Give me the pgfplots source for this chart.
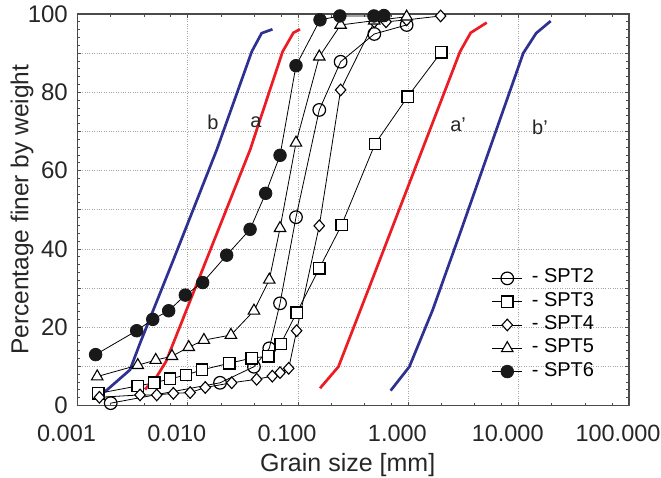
\documentclass[border=0pt]{standalone}
\usepackage{fontspec}
\setmainfont{Liberation Sans}
\usepackage{pgfplots}
\pgfplotsset{compat=1.18}
\definecolor{envred}{RGB}{237,28,36}
\definecolor{envblue}{RGB}{46,49,146}
\definecolor{axgray}{RGB}{75,75,75}
\begin{document}
\begin{tikzpicture}
\begin{axis}[name=ax, xmode=log, log basis x=10,
 scale only axis, width=551.5pt, height=391.5pt,
 xmin=0.001, xmax=100, ymin=0, ymax=100,
 xtick={0.001,0.01,0.1,1,10,100},
 xticklabels={0.001,0.010,0.100,1.000,10.000,100.000},
 minor xtick={0.002,0.004,0.007,0.02,0.04,0.07,0.2,0.4,0.7,2,4,7,20,40,70},
 ytick={0,10,...,100}, yticklabels={0,,20,,40,,60,,80,,100},
 minor ytick={0,2,...,100},
 grid=major, grid style={dotted, black!35, line width=0.8pt},
 axis line style={axgray, line width=1.6pt},
 tick style={axgray, line width=0.8pt},
 major tick length=4pt, minor tick length=3pt,
 tick align=inside,
 ticklabel style={text=black!85},
 xticklabel style={font=\fontsize{23.5}{27}\selectfont, anchor=north, inner sep=0pt, yshift=-19pt, xshift=-11pt},
 yticklabel style={font=\fontsize{24}{27}\selectfont, anchor=east, inner sep=0pt, xshift=-9.5pt},
 xlabel={Grain size [mm]}, ylabel={Percentage finer by weight},
 label style={text=black!85},
 xlabel style={font=\fontsize{25}{29}\selectfont, at={(axis description cs:0.49,-0.1213)}, anchor=north, inner sep=0pt},
 ylabel style={font=\fontsize{24.5}{28}\selectfont, at={(axis description cs:-0.1006,0.5)}, anchor=center, inner sep=0pt},
 legend style={at={(rel axis cs:0.751,0.355)}, anchor=north west, draw=none, fill=none,
   font=\fontsize{20}{23}\selectfont, inner sep=0pt, row sep=0pt,
   nodes={inner sep=2.15pt, text height=14pt, text depth=5pt},
   /tikz/every odd column/.append style={column sep=7pt}},
 legend cell align=left,
 legend image code/.code={\draw[mark repeat=2,mark phase=2] plot coordinates {(0pt,0pt)(15pt,0pt)(30pt,0pt)};},
 every axis plot/.append style={black, line width=0.8pt},
]
% envelope curves
\addplot[envblue, line width=2.7pt, no markers, forget plot] coordinates {
(0.00177,3.5)(0.00299,9.1)(0.00369,15.9)(0.0074,37.2)(0.0183,65.3)(0.038,90.4)(0.0467,95.1)(0.0586,96.1)};
\addplot[envred, line width=2.7pt, no markers, forget plot] coordinates {
(0.00409,4.1)(0.00523,7.4)(0.00634,11.2)(0.0367,65.3)(0.0724,90.4)(0.0906,95.2)(0.104,96.1)};
\addplot[envred, line width=2.7pt, no markers, forget plot] coordinates {
(0.158,4.4)(0.232,9.9)(0.481,32.9)(2.94,90.4)(3.67,95.2)(5.13,97.8)};
\addplot[envblue, line width=2.7pt, no markers, forget plot] coordinates {
(0.69,3.8)(1.02,9.9)(1.66,24.4)(2.94,44)(11.0,90)(14.4,95.1)(19.5,98.2)};
% SPT2
\addplot[mark=o, mark size=6.3pt, mark options={solid, fill=white, line width=1.2pt}] coordinates {
(0.0020,0.6)(0.0196,5.8)(0.0398,9.9)(0.0548,14.6)(0.0686,26.1)(0.0957,48.1)(0.1556,75.5)(0.243,87.8)(0.491,94.9)(0.964,97.2)};
\addlegendentry{- SPT2}
% SPT3
\addplot[mark=square*, mark size=5.7pt, mark options={solid, fill=white, line width=1.4pt}] coordinates {
(0.00155,3.1)(0.00352,5.0)(0.00497,5.8)(0.0069,6.8)(0.00964,7.8)(0.01346,9.1)(0.02377,10.8)(0.038,12.1)(0.0537,12.6)(0.0695,15.7)(0.097,23.7)(0.1556,35.0)(0.248,46.1)(0.498,66.8)(0.986,78.9)(1.98,90.2)};
\addlegendentry{- SPT3}
% SPT4
\addplot[mark=diamond*, mark size=5.8pt, mark options={solid, fill=white, line width=1.1pt, xscale=1.2}] coordinates {
(0.00158,2.1)(0.00369,2.7)(0.00523,2.7)(0.0074,3.1)(0.0105,3.3)(0.0144,4.6)(0.025,5.8)(0.0421,6.7)(0.0584,7.5)(0.0686,8.4)(0.0822,9.5)(0.097,19.1)(0.1556,45.9)(0.243,80.6)(0.491,98.0)(0.627,98.0)(0.964,98.5)(1.96,99.5)};
\addlegendentry{- SPT4}
% SPT5
\addplot[mark=triangle*, mark size=6.6pt, mark options={solid, fill=white, line width=1.1pt}] coordinates {
(0.00151,7.4)(0.00352,10.3)(0.00512,11.6)(0.00719,12.6)(0.0102,14.9)(0.014,16.7)(0.0246,18.0)(0.0398,24.2)(0.0548,32.1)(0.0686,45.3)(0.0957,67.1)(0.1556,89.1)(0.243,97.2)(0.49,98.3)(0.964,99.3)};
\addlegendentry{- SPT5}
% SPT6
\addplot[mark=*, mark size=6.3pt, mark options={solid, fill=black!90, draw=black!90}] coordinates {
(0.00146,13)(0.00344,19.1)(0.00481,22.0)(0.00671,24.2)(0.00949,28.2)(0.01364,31.4)(0.02253,38.4)(0.0367,45.0)(0.0508,54.2)(0.0686,63.9)(0.0957,86.8)(0.158,98.5)(0.239,99.5)(0.487,99.5)(0.6,99.6)};
\addlegendentry{- SPT6}
% curve labels
\node[font=\fontsize{20}{23}\selectfont, text=black!85] at (axis cs:0.0169,72.4) {b};
\node[font=\fontsize{20}{23}\selectfont, text=black!85] at (axis cs:0.0415,72.4) {a};
\node[font=\fontsize{20}{23}\selectfont, text=black!85] at (axis cs:2.82,71.6) {a'};
\node[font=\fontsize{20}{23}\selectfont, text=black!85] at (axis cs:15.6,71.1) {b'};
\end{axis}
\pgfresetboundingbox
\path[use as bounding box] ([xshift=-77.5pt,yshift=-71.5pt]ax.south west) rectangle ([xshift=32pt,yshift=14pt]ax.north east);
\end{tikzpicture}
\end{document}
